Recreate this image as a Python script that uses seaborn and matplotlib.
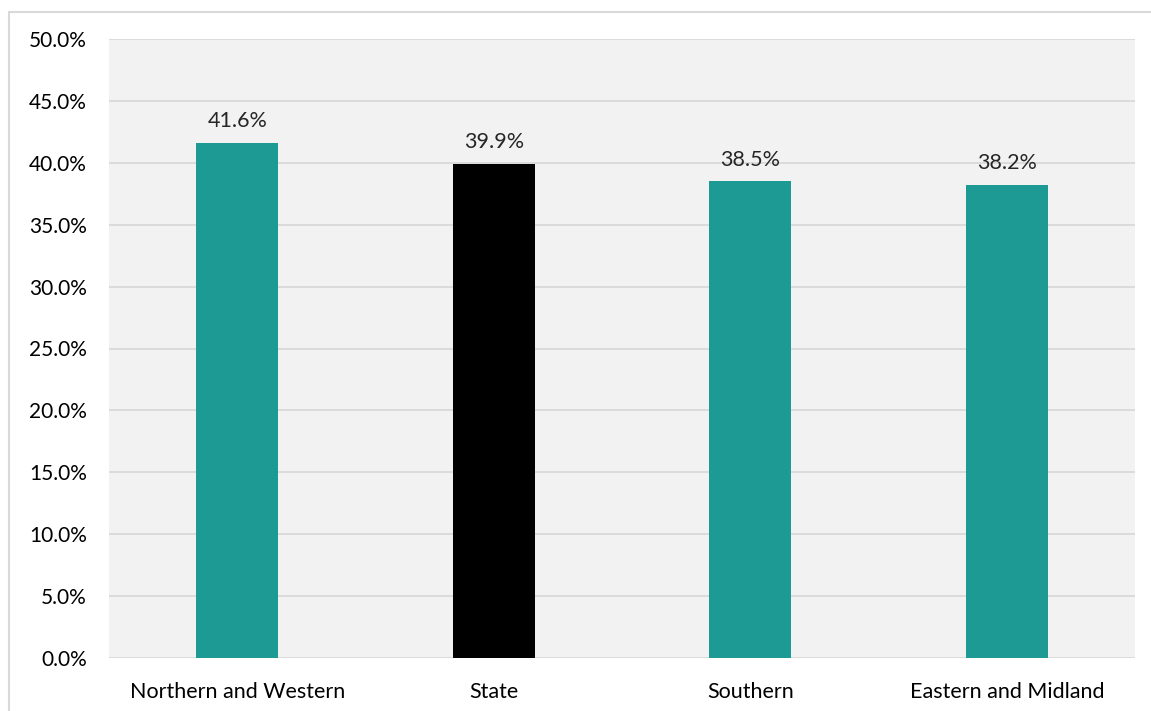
import matplotlib
matplotlib.use("Agg")
import matplotlib.pyplot as plt
from matplotlib.patches import Rectangle
import seaborn as sns
import pandas as pd

regions = ["Northern and Western", "State", "Southern", "Eastern and Midland"]
values = [41.6, 39.9, 38.5, 38.2]
bar_colors = ["#1E9A94", "#000000", "#1E9A94", "#1E9A94"]
y_ticks = [0, 5, 10, 15, 20, 25, 30, 35, 40, 45, 50]

sns.set_theme(style="white")
plt.rcParams["font.family"] = ["Lato", "DejaVu Sans"]

df = pd.DataFrame({"region": regions, "value": values})

fig = plt.figure(figsize=(11.51, 7.11), dpi=100)
fig.patch.set_facecolor("white")
ax = fig.add_axes([109 / 1151, 1 - 658 / 711, 1026 / 1151, 619 / 711])
ax.set_facecolor("#F2F2F2")

sns.barplot(data=df, x="region", y="value", hue="region", palette=bar_colors,
            order=regions, hue_order=regions, width=0.32, legend=False,
            saturation=1, linewidth=0, ax=ax, zorder=3)

for container in ax.containers:
    ax.bar_label(container, labels=[f"{v:.1f}%" for v in container.datavalues],
                 padding=8.5, fontsize=15.5, color="#262626")

ax.set_ylim(0, 50)
ax.set_yticks(y_ticks)
ax.set_yticklabels([f"{t:.1f}%" for t in y_ticks])
ax.yaxis.grid(True, color="#D9D9D9", linewidth=1.3, zorder=0)
ax.set_axisbelow(True)
for s in ax.spines.values():
    s.set_visible(False)
ax.tick_params(axis="y", length=0, pad=16, labelsize=15, labelcolor="#000000")
ax.tick_params(axis="x", length=0, pad=17, labelsize=15.5, labelcolor="#000000")
ax.set_xlabel("")
ax.set_ylabel("")

# outer chart frame
fig.patches.append(Rectangle((0.0075, -0.01), 1.0, 0.993, transform=fig.transFigure,
                             fill=False, edgecolor="#D9D9D9", linewidth=1.5))

fig.savefig("out.png", dpi=100, facecolor="white")
